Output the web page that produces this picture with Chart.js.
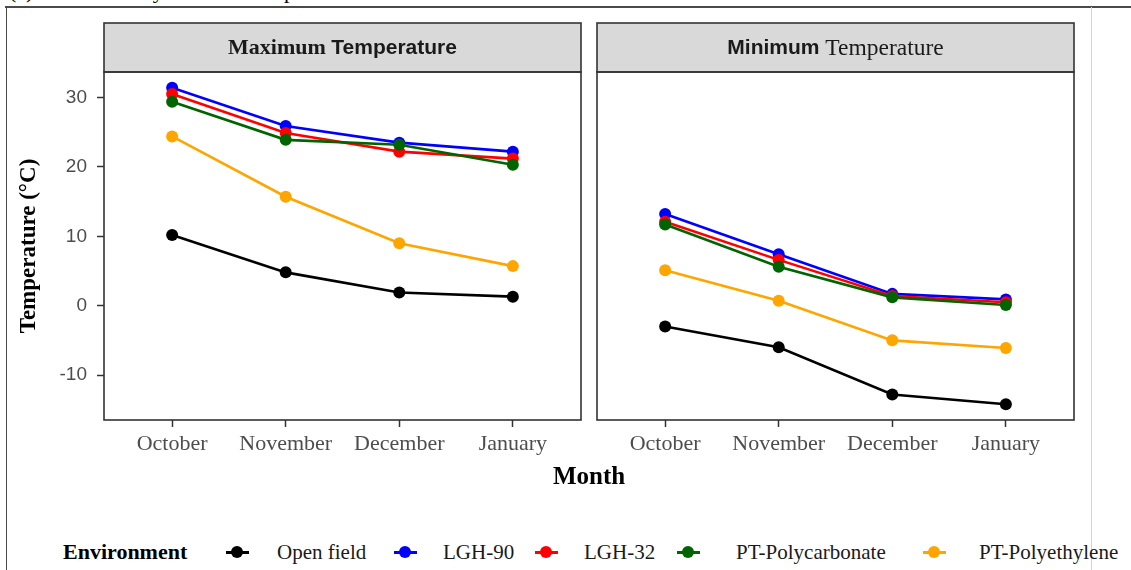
<!DOCTYPE html>
<html>
<head>
<meta charset="utf-8">
<script src="https://cdn.jsdelivr.net/npm/chart.js@4.4.1/dist/chart.umd.min.js"></script>
<style>
  html, body { margin: 0; padding: 0; background: #ffffff; }
  body { width: 1131px; height: 570px; position: relative; overflow: hidden; font-family: "Liberation Serif", serif; color: #000; }
  .abs { position: absolute; white-space: nowrap; }
  canvas { position: absolute; top: 0; }
  .caption { font-size: 22px; line-height: 24px; top: -21px; color: #000; }
  .hline { left: 5px; top: 6px; width: 1126px; height: 1.5px; background: #4a4a4a; }
  .vline { left: 5.5px; top: 6px; width: 1.5px; height: 564px; background: #4a4a4a; }
  .vlight { left: 1091px; top: 7px; width: 1px; height: 563px; background: #d4d4d4; }
  .xtitle { left: 489px; width: 200px; text-align: center; top: 461px; font-size: 25px; line-height: 30px; font-weight: bold; }
  .legend-title { left: 63px; top: 539px; font-size: 22px; line-height: 26px; font-weight: bold; }
  .key { width: 23px; height: 12px; top: 546px; }
  .key .seg { position: absolute; left: 0; top: 4.5px; width: 23px; height: 3px; }
  .key .dot { position: absolute; left: 5.5px; top: 0; width: 12px; height: 12px; border-radius: 50%; }
  .key-label { top: 539px; font-size: 21px; line-height: 26px; color: #1a1a1a; }
</style>
</head>
<body>
<div class="abs caption" style="left:9px">(a)</div>
<div class="abs caption" style="left:88px">Monthly mean air temperature</div>
<div class="abs hline"></div>
<div class="abs vline"></div>
<div class="abs vlight"></div>

<canvas id="maxChart" width="590" height="470" style="left:0px"></canvas>
<canvas id="minChart" width="541" height="470" style="left:590px"></canvas>

<div class="abs xtitle">Month</div>
<div class="abs legend-title">Environment</div>
<div id="legend"></div>

<script>
// Months on the x axis
const months = ['October', 'November', 'December', 'January'];

// Growing environments and their colours
const environments = ['Open field', 'LGH-90', 'LGH-32', 'PT-Polycarbonate', 'PT-Polyethylene'];
const envColors = ['#000000', '#0000FF', '#FF0000', '#006400', '#FFA500'];

// Maximum temperature (°C) per month
const maxOpenField      = [10.2, 4.8, 1.9, 1.3];
const maxLGH90          = [31.4, 25.9, 23.5, 22.2];
const maxLGH32          = [30.5, 24.9, 22.2, 21.2];
const maxPolycarbonate  = [29.4, 23.9, 23.2, 20.3];
const maxPolyethylene   = [24.4, 15.7, 9.0, 5.7];

// Minimum temperature (°C) per month
const minOpenField      = [-3.0, -6.0, -12.8, -14.2];
const minLGH90          = [13.2, 7.4, 1.7, 0.9];
const minLGH32          = [12.1, 6.6, 1.4, 0.5];
const minPolycarbonate  = [11.7, 5.6, 1.2, 0.1];
const minPolyethylene   = [5.1, 0.7, -5.0, -6.1];

// Y axis tick values
const yTicks = [-10, 0, 10, 20, 30];

const maxSeries = [maxOpenField, maxLGH90, maxLGH32, maxPolycarbonate, maxPolyethylene];
const minSeries = [minOpenField, minLGH90, minLGH32, minPolycarbonate, minPolyethylene];

// Shared y range: data range expanded by 5% on each side
const allVals = maxSeries.concat(minSeries).flat();
const dMin = Math.min(...allVals), dMax = Math.max(...allVals);
const span = dMax - dMin;
const yMin = dMin - span * 0.05, yMax = dMax + span * 0.05;

const SERIF = '"Liberation Serif", serif';
const SANS = '"Liberation Sans", Arial, sans-serif';

// Panel border and facet strip with a mixed-font label
const panelFrame = {
  id: 'panelFrame',
  afterDraw(chart, args, opts) {
    const { ctx, chartArea: a } = chart;
    const w = a.right - a.left;
    const top = a.top - opts.stripHeight;
    ctx.save();
    ctx.fillStyle = '#D9D9D9';
    ctx.fillRect(a.left, top, w, opts.stripHeight);
    ctx.lineWidth = 1.6;
    ctx.strokeStyle = '#333333';
    ctx.strokeRect(a.left, top, w, opts.stripHeight);
    ctx.strokeRect(a.left, a.top, w, a.bottom - a.top);
    // strip label made of runs in different fonts
    let total = 0;
    opts.runs.forEach(r => { ctx.font = r.font; r.w = ctx.measureText(r.text).width; total += r.w; });
    let x = a.left + w / 2 - total / 2;
    const y = top + opts.stripHeight / 2 + 1;
    ctx.fillStyle = '#1a1a1a';
    ctx.textBaseline = 'middle';
    ctx.textAlign = 'left';
    opts.runs.forEach(r => { ctx.font = r.font; ctx.fillText(r.text, x, y); x += r.w; });
    ctx.restore();
  }
};

function buildDatasets(seriesList) {
  return seriesList.map((vals, i) => ({
    label: environments[i],
    data: vals.map((v, k) => ({ x: k, y: v })),
    borderColor: envColors[i],
    backgroundColor: envColors[i],
    pointBackgroundColor: envColors[i],
    pointBorderWidth: 0,
    pointRadius: 6,
    borderWidth: 2.6,
    tension: 0,
    order: seriesList.length - i
  }));
}

function makePanel(canvasId, seriesList, runs, showY, padding) {
  return new Chart(document.getElementById(canvasId), {
    type: 'line',
    data: { datasets: buildDatasets(seriesList) },
    plugins: [panelFrame],
    options: {
      responsive: false,
      animation: false,
      events: [],
      layout: { padding },
      plugins: {
        legend: { display: false },
        tooltip: { enabled: false },
        panelFrame: { stripHeight: 49, runs }
      },
      scales: {
        x: {
          type: 'linear',
          min: -0.6,
          max: 3.6,
          afterBuildTicks: s => { s.ticks = months.map((m, i) => ({ value: i })); },
          afterFit: s => { s.height = 40; },
          ticks: {
            callback: v => months[v],
            font: { family: SERIF, size: 22 },
            color: '#4D4D4D',
            padding: 4,
            maxRotation: 0,
            autoSkip: false
          },
          grid: { drawOnChartArea: false, drawTicks: true, tickLength: 7, tickWidth: 1.5, tickColor: '#333333', color: '#333333' },
          border: { display: false }
        },
        y: {
          display: showY,
          min: yMin,
          max: yMax,
          afterBuildTicks: s => { s.ticks = yTicks.map(v => ({ value: v })); },
          afterFit: s => { s.width = showY ? 104 : 0; },
          ticks: {
            font: { family: SANS, size: 19 },
            color: '#4D4D4D',
            padding: 10
          },
          grid: { drawOnChartArea: false, drawTicks: true, tickLength: 7, tickWidth: 1.5, tickColor: '#333333', color: '#333333' },
          border: { display: false },
          title: {
            display: true,
            text: 'Temperature (°C)',
            font: { family: SERIF, size: 23, weight: 'bold' },
            color: '#000000',
            padding: { top: 15, bottom: 0 }
          }
        }
      }
    }
  });
}

makePanel('maxChart', maxSeries,
  [{ text: 'Maximum ', font: 'bold 22px ' + SERIF }, { text: 'Temperature', font: 'bold 21px ' + SANS }],
  true, { top: 72, left: 0, right: 9, bottom: 10 });

makePanel('minChart', minSeries,
  [{ text: 'Minimum ', font: 'bold 21px ' + SANS }, { text: 'Temperature', font: '23.5px ' + SERIF }],
  false, { top: 72, left: 7, right: 57, bottom: 10 });

// Legend keys
const keyCenters = [237, 405, 546, 688, 934];
const labelLefts = [277, 443, 584, 736, 979];
const legend = document.getElementById('legend');
environments.forEach((name, i) => {
  const key = document.createElement('div');
  key.className = 'abs key';
  key.style.left = (keyCenters[i] - 11.5) + 'px';
  key.innerHTML = '<div class="seg" style="background:' + envColors[i] + '"></div><div class="dot" style="background:' + envColors[i] + '"></div>';
  legend.appendChild(key);
  const lab = document.createElement('div');
  lab.className = 'abs key-label';
  lab.style.left = labelLefts[i] + 'px';
  lab.textContent = name;
  legend.appendChild(lab);
});
</script>
</body>
</html>
